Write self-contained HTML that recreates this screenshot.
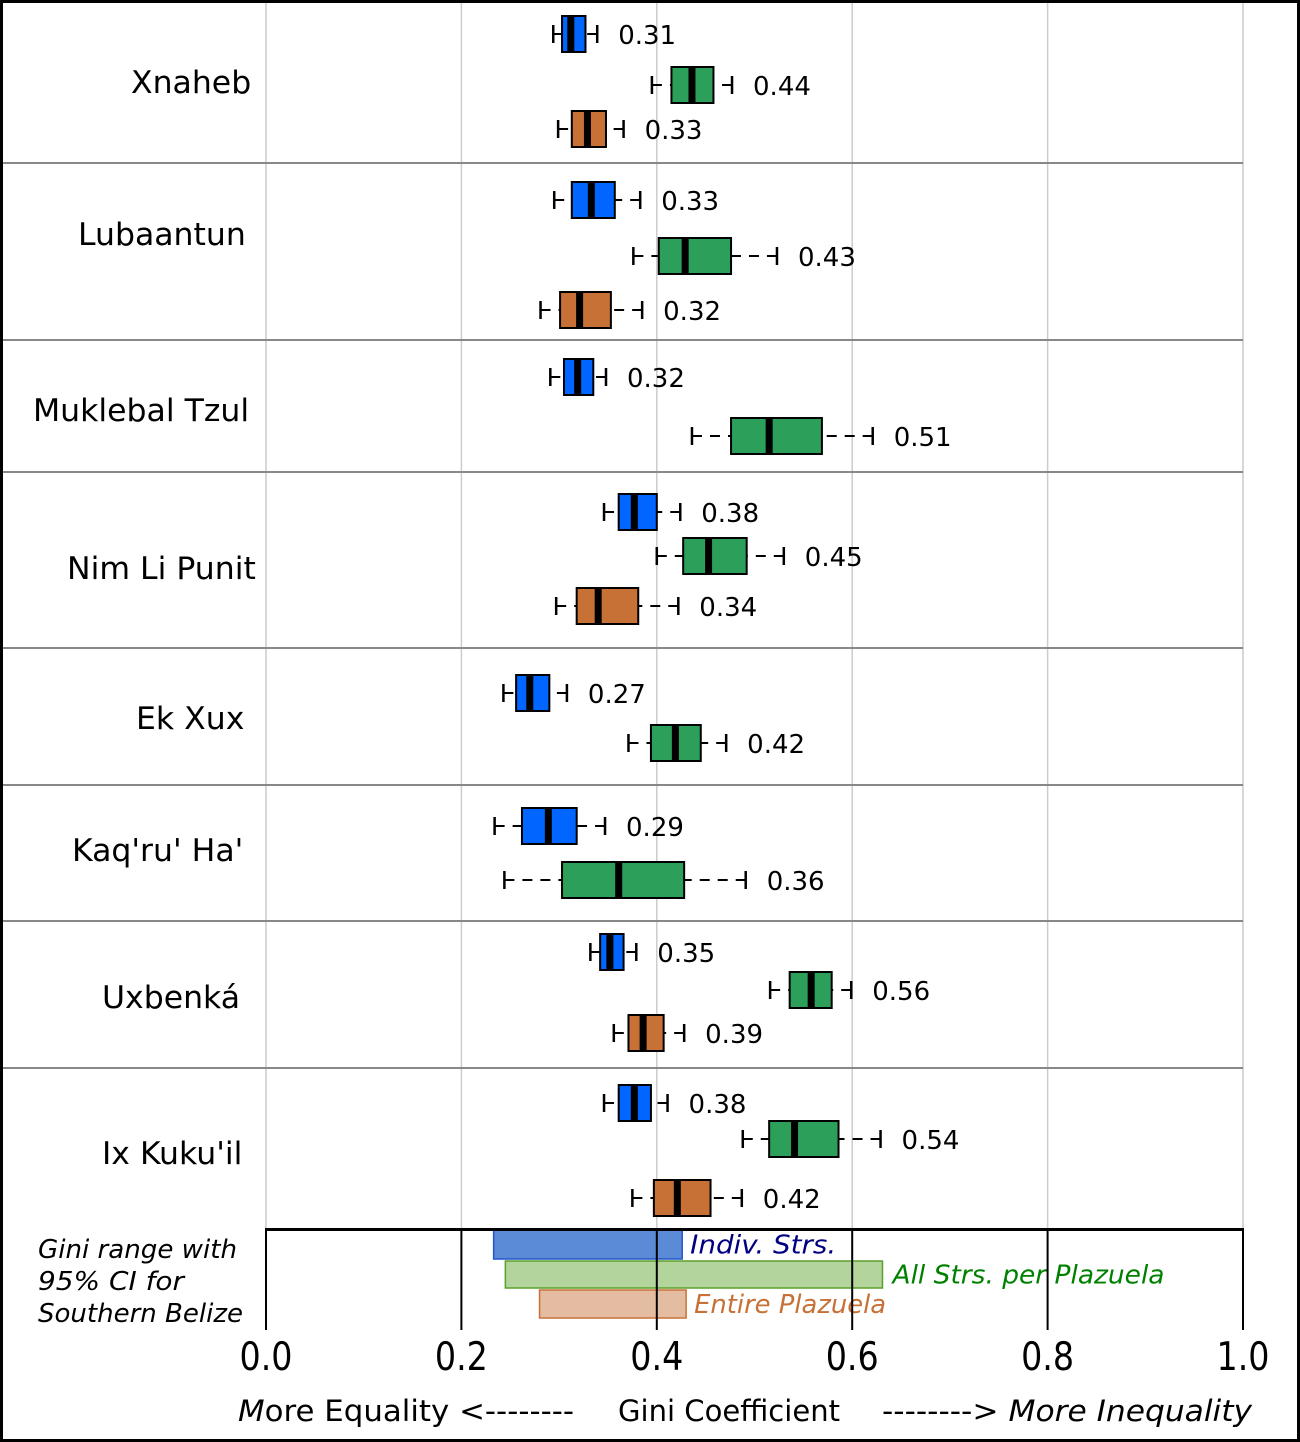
<!DOCTYPE html>
<html><head><meta charset="utf-8"><style>
html,body{margin:0;padding:0;background:#fff;}
svg{display:block;font-family:"DejaVu Sans","Liberation Sans",sans-serif;}
</style></head><body>
<svg id="chart" width="1300" height="1442" viewBox="0 0 1300 1442" xmlns="http://www.w3.org/2000/svg">
<rect x="1.5" y="1.5" width="1297" height="1439" fill="#fff" stroke="#000" stroke-width="3"/>
<g id="grid"></g>
<g id="sites"></g>
<g id="boxes"></g>
<g id="legend"></g>
<g id="axis"></g>
</svg>
<script>
const sites = ["Xnaheb","Lubaantun","Muklebal Tzul","Nim Li Punit","Ek Xux","Kaq'ru' Ha'","Uxbenká","Ix Kuku'il"];
const siteLabelX = [131,78,33,67,136,72,102,102];
const siteLabelY = [82,234,410,568,718,850,997,1153];
const separatorsY = [163,340,472,648,785,921,1068];
const boxSite   = [0,0,0, 1,1,1, 2,2, 3,3,3, 4,4, 5,5, 6,6,6, 7,7,7];
const boxSeries = [0,1,2, 0,1,2, 0,1, 0,1,2, 0,1, 0,1, 0,1,2, 0,1,2];
const boxRowY   = [34,85,129, 200,256,310, 377,436, 512,556,606, 693,743, 826,880, 952,990,1033, 1103,1139,1198];
const whiskLo = [.294,.395,.299, .295,.376,.281, .291,.436, .346,.400,.297, .243,.371, .234,.244, .332,.516,.356, .346,.488,.375];
const q1      = [.303,.415,.313, .313,.402,.301, .305,.476, .361,.427,.318, .256,.394, .262,.303, .342,.536,.371, .361,.515,.397];
const median  = [.312,.436,.329, .333,.429,.321, .319,.515, .377,.453,.340, .270,.419, .289,.361, .352,.558,.386, .377,.541,.421];
const q3      = [.327,.458,.348, .357,.476,.353, .335,.569, .400,.492,.381, .290,.445, .318,.428, .366,.579,.407, .394,.586,.455];
const whiskHi = [.339,.477,.366, .383,.523,.385, .348,.621, .424,.530,.422, .308,.471, .347,.491, .379,.599,.428, .411,.629,.487];
const valueLabels = ["0.31","0.44","0.33","0.33","0.43","0.32","0.32","0.51","0.38","0.45","0.34","0.27","0.42","0.29","0.36","0.35","0.56","0.39","0.38","0.54","0.42"];
const seriesColors = ["#0066ff","#2ca05a","#c87137"];
const legendNames = ["Indiv. Strs.","All Strs. per Plazuela","Entire Plazuela"];
const legendLo = [.233,.245,.280];
const legendHi = [.426,.631,.430];
const legendFill = ["#5b8bd6","#b3d59c","#e4bca2"];
const legendStroke = ["#2255cc","#5aa02c","#c87137"];
const legendText = ["#000080","#008000","#c87137"];
const legendTextW = [146,272,192];
const ticks = [0,0.2,0.4,0.6,0.8,1.0];
const tickLabels = ["0.0","0.2","0.4","0.6","0.8","1.0"];

const NS="http://www.w3.org/2000/svg";
const X0=266, X1=1243;
function xs(v){return X0+(X1-X0)*v;}
function mk(tag,attrs,parent,text){const e=document.createElementNS(NS,tag);for(const k in attrs)e.setAttribute(k,attrs[k]);if(text!==undefined)e.textContent=text;parent.appendChild(e);return e;}

const grid=document.getElementById('grid');
ticks.forEach((t,i)=>{
  const l=mk('line',{x1:xs(t),x2:xs(t),y1:3,y2:1229,stroke:'#ccc','stroke-width':1.5},grid);
  
  
});
separatorsY.forEach((y,i)=>{
  const l=mk('line',{x1:3,x2:X1,y1:y,y2:y,stroke:'#888','stroke-width':2},grid);
  
  
});

const sg=document.getElementById('sites');
sites.forEach((s,i)=>{
  const t=mk('text',{x:siteLabelX[i],y:siteLabelY[i]+11,'font-size':31.5,fill:'#000'},sg,s);
  
  
});

const bg=document.getElementById('boxes');
for(let i=0;i<boxSite.length;i++){
  const y=boxRowY[i], h=36;
  const g=mk('g',{},bg);
  
  
  const xl=xs(whiskLo[i]),xa=xs(q1[i]),xm=xs(median[i]),xb=xs(q3[i]),xh=xs(whiskHi[i]);
  mk('line',{x1:xl,x2:xa,y1:y,y2:y,stroke:'#000','stroke-width':2,'stroke-dasharray':'10,8'},g);
  mk('line',{x1:xh,x2:xb,y1:y,y2:y,stroke:'#000','stroke-width':2,'stroke-dasharray':'10,8'},g);
  mk('line',{x1:xl,x2:xl,y1:y-9,y2:y+9,stroke:'#000','stroke-width':2.5},g);
  mk('line',{x1:xh,x2:xh,y1:y-9,y2:y+9,stroke:'#000','stroke-width':2.5},g);
  mk('rect',{x:xa,y:y-h/2,width:xb-xa,height:h,fill:seriesColors[boxSeries[i]],stroke:'#000','stroke-width':2},g);
  mk('line',{x1:xm,x2:xm,y1:y-h/2,y2:y+h/2,stroke:'#000','stroke-width':7},g);
  const t=mk('text',{x:xh+21,y:y+10,'font-size':26,fill:'#000'},bg,valueLabels[i]);
  
  
}

const lg=document.getElementById('legend');
const rowTop=[1230,1261,1290], rowH=[29,27,28];
mk('rect',{x:X0,y:1229,width:X1-X0,height:101,fill:'#fff'},lg);
for(let i=0;i<3;i++){
  const r=mk('rect',{x:xs(legendLo[i]),y:rowTop[i],width:xs(legendHi[i])-xs(legendLo[i]),height:rowH[i],fill:legendFill[i],stroke:legendStroke[i],'stroke-width':1.5},lg);
  
  
  const t=mk('text',{x:xs(legendHi[i])+(i==1?10:8),y:rowTop[i]+rowH[i]/2+9,'font-size':26,'font-style':'italic',textLength:legendTextW[i],lengthAdjust:'spacingAndGlyphs',fill:legendText[i]},lg,legendNames[i]);
  
  
}
const ag=document.getElementById('axis');
ticks.forEach((t,i)=>{
  const l=mk('line',{x1:xs(t),x2:xs(t),y1:1229,y2:1330,stroke:'#000','stroke-width':2},ag);
  
  
  const tx=mk('text',{x:xs(t)-26.5,y:1370,'font-size':39,textLength:53,lengthAdjust:'spacingAndGlyphs',fill:'#000'},ag,tickLabels[i]);
  
  
});
const axisTopLine=mk('line',{x1:X0-1,x2:X1+1,y1:1229.5,y2:1229.5,stroke:'#000','stroke-width':3},ag);


const leftTitleLines=["Gini range with","95% CI for","Southern Belize"];
const leftTitleW=[199,146,205];
leftTitleLines.forEach((s,i)=>{
  const t=mk('text',{x:38,y:1258+i*32,'font-size':26,'font-style':'italic',textLength:leftTitleW[i],lengthAdjust:'spacingAndGlyphs',fill:'#000'},ag,s);
  
  
});
let t1=mk('text',{x:238,y:1421,'font-size':29,textLength:336,lengthAdjust:'spacingAndGlyphs',fill:'#000'},ag);
mk('tspan',{'font-style':'italic'},t1,'M');mk('tspan',{},t1,'ore Equality <--------');


let t2=mk('text',{x:618,y:1421,'font-size':29,textLength:222,lengthAdjust:'spacingAndGlyphs',fill:'#000'},ag,'Gini Coefficient');


let t3=mk('text',{x:882,y:1421,'font-size':29,textLength:370,lengthAdjust:'spacingAndGlyphs',fill:'#000'},ag);
mk('tspan',{},t3,'--------> ');mk('tspan',{'font-style':'italic'},t3,'More Inequality');


</script>
</body></html>
